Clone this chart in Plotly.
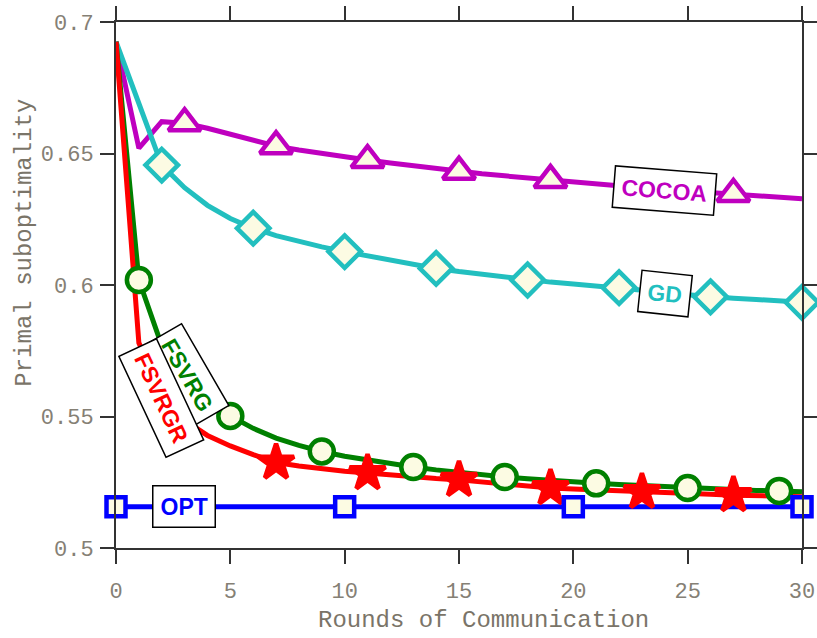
import plotly.graph_objects as go

# ---------------- data ----------------
rounds = list(range(31))
cocoa = [0.6925, 0.652, 0.6621, 0.6615, 0.6596, 0.6573, 0.655, 0.6528, 0.6513, 0.6499,
         0.6487, 0.6475, 0.6464, 0.6453, 0.6442, 0.6431, 0.6423, 0.6415, 0.6407, 0.6399,
         0.6391, 0.6382, 0.6375, 0.6368, 0.6362, 0.6357, 0.6352, 0.6346, 0.634, 0.6334, 0.6328]
gd = [0.6925, 0.669, 0.6456, 0.637, 0.6303, 0.6253, 0.6216, 0.6188, 0.6165, 0.6145,
      0.6127, 0.611, 0.6094, 0.6078, 0.6063, 0.6051, 0.604, 0.6029, 0.6019, 0.6011,
      0.6004, 0.5997, 0.599, 0.5981, 0.5972, 0.5963, 0.5955, 0.595, 0.5945, 0.5939, 0.5934]
fsvrg = [0.6925, 0.6019, 0.577, 0.5645, 0.5565, 0.5502, 0.5455, 0.5418, 0.539, 0.5367,
         0.5349, 0.5334, 0.5321, 0.5308, 0.5297, 0.5287, 0.5278, 0.527, 0.5263, 0.5256,
         0.5251, 0.5246, 0.5241, 0.5237, 0.5232, 0.5228, 0.5225, 0.5222, 0.5219, 0.5217, 0.5214]
fsvrgr = [0.6925, 0.578, 0.558, 0.5485, 0.5428, 0.5388, 0.5355, 0.5325, 0.5312, 0.53,
          0.5292, 0.5285, 0.5277, 0.527, 0.5264, 0.5259, 0.5251, 0.5243, 0.5235, 0.5228,
          0.5224, 0.522, 0.5216, 0.5213, 0.521, 0.5207, 0.5204, 0.5201, 0.5199, 0.5197, 0.5195]
opt_rounds = [0, 10, 20, 30]
opt = [0.5157, 0.5157, 0.5157, 0.5157]

x_ticks = [0, 5, 10, 15, 20, 25, 30]
y_ticks = [0.5, 0.55, 0.6, 0.65, 0.7]
y_ticktext = ["0.5", "0.55", "0.6", "0.65", "0.7"]

# ---------------- style ----------------
FILL = "#FCFBE3"
C_COCOA = "#BF00BF"
C_GD = "#22BFBF"
C_FSVRG = "#008000"
C_FSVRGR = "#FF0000"
C_OPT = "#0000FF"
LW = 5

series = [
    # name, x, y, color, symbol, size, fill, marker start, step
    ("COCOA", rounds, cocoa, C_COCOA, "triangle-up", 28, FILL, 3, 4),
    ("GD", rounds, gd, C_GD, "diamond", 25, FILL, 2, 4),
    ("FSVRG", rounds, fsvrg, C_FSVRG, "circle", 24, FILL, 1, 4),
    ("FSVRGR", rounds, fsvrgr, C_FSVRGR, "star", 27, C_FSVRGR, 3, 4),
    ("OPT", opt_rounds, opt, C_OPT, "square", 19, FILL, 0, 1),
]

fig = go.Figure()
for name, xs, ys, col, sym, size, fill, start, step in series:
    fig.add_trace(go.Scatter(x=xs, y=ys, mode="lines", line=dict(color=col, width=LW),
                             showlegend=False, hoverinfo="skip", cliponaxis=True))
for name, xs, ys, col, sym, size, fill, start, step in series:
    mx = xs[start::step]
    my = ys[start::step]
    fig.add_trace(go.Scatter(x=mx, y=my, mode="markers", name=name,
                             marker=dict(symbol=sym, size=size, color=fill,
                                         line=dict(color=col, width=4.5)),
                             showlegend=False, cliponaxis=False))

AX = "#333333"
TICKFONT = dict(family="Liberation Mono, DejaVu Sans Mono, monospace", size=22, color="#858075")
axis_common = dict(showline=True, linewidth=2, linecolor=AX, mirror="allticks",
                   ticks="outside", ticklen=14, tickwidth=2, tickcolor=AX,
                   showgrid=False, zeroline=False, tickfont=TICKFONT, automargin=False)

fig.update_xaxes(range=[0, 30], tickvals=x_ticks, ticklabelstandoff=8, **axis_common)
fig.update_yaxes(range=[0.5, 0.7], tickvals=y_ticks, ticktext=y_ticktext,
                 ticklabelstandoff=2, **axis_common)

TITLEFONT = dict(family="Liberation Mono, DejaVu Sans Mono, monospace", size=24, color="#7a7468")
annotations = [
    dict(text="Rounds of Communication", xref="paper", yref="paper", x=0.535, y=-0.1375,
         xanchor="center", yanchor="middle", showarrow=False, font=TITLEFONT),
    dict(text="Primal suboptimality", xref="paper", yref="paper", x=-0.133, y=0.58,
         xanchor="center", yanchor="middle", showarrow=False, font=TITLEFONT, textangle=-90),
]

LABFONT = "Liberation Sans, Arial, sans-serif"
labels = [
    ("COCOA", 23.97, 0.6361, C_COCOA, 4.5),
    ("GD", 23.99, 0.5968, C_GD, 6),
    ("FSVRG", 3.09, 0.5658, C_FSVRG, 60),
    ("FSVRGR", 2.0, 0.557, C_FSVRGR, 65),
    ("OPT", 2.99, 0.5157, C_OPT, 0),
]
for txt, lx, ly, col, ang in labels:
    annotations.append(dict(text=txt, x=lx, y=ly, xref="x", yref="y", showarrow=False,
                            textangle=ang, bgcolor="white", bordercolor="black",
                            borderwidth=1.5, borderpad=7,
                            font=dict(family=LABFONT, size=23, color=col, weight="bold")))

fig.update_layout(width=817, height=638, margin=dict(l=116, r=15, t=22, b=90, autoexpand=False),
                  plot_bgcolor="white", paper_bgcolor="white", annotations=annotations)

fig.write_html("out.html")
